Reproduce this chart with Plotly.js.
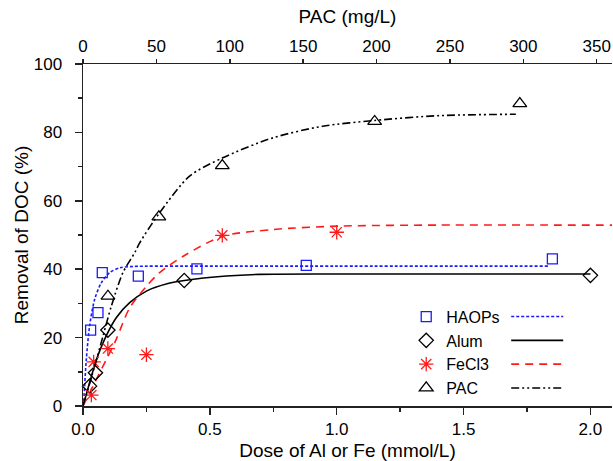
<!DOCTYPE html>
<html>
<head>
<meta charset="utf-8">
<script src="https://cdn.plot.ly/plotly-3.0.1.min.js"></script>
<style>html,body{margin:0;padding:0;background:#fff;}#chart{width:613px;height:461px;}</style>
</head>
<body>
<div id="chart"></div>
<script>
// Measured points (bottom axis: mmol/L, top axis for PAC: mg/L)
var haopsX = [0.030, 0.059, 0.076, 0.218, 0.449, 0.880, 1.850];
var haopsY = [22.2, 27.3, 39.0, 38.0, 40.1, 41.1, 43.0];
var alumX = [0.026, 0.049, 0.098, 0.399, 2.0];
var alumY = [5.8, 9.7, 22.2, 36.7, 38.2];
var feX = [0.033, 0.042, 0.098, 0.25, 0.549, 1.0];
var feY = [3.2, 12.9, 16.8, 15.0, 49.9, 50.8];
var pacX = [17.0, 51.7, 94.9, 198.7, 297.6];
var pacY = [32.1, 55.3, 70.3, 83.2, 88.4];

// Fitted curves
var haopsFitX = [0, 0.003, 0.013, 0.026, 0.046, 0.072, 0.105, 0.145, 0.2, 0.4, 1.0, 1.84];
var haopsFitY = [0, 2, 13.6, 23.4, 31.2, 36, 39, 40.4, 40.8, 40.9, 40.9, 40.9];
var alumFitX = [0, 0.026, 0.053, 0.085, 0.131, 0.184, 0.25, 0.335, 0.4, 0.565, 0.696, 1.0, 1.5, 2.0];
var alumFitY = [0, 6.8, 13.6, 19.5, 25.8, 30.2, 33.6, 35.8, 36.7, 38.0, 38.5, 38.6, 38.6, 38.6];
var feFitX = [0, 0.046, 0.092, 0.131, 0.184, 0.25, 0.302, 0.4, 0.549, 0.748, 1.01, 1.4, 1.877, 2.085];
var feFitY = [0, 6.8, 13.6, 19.5, 28.7, 35, 39, 44, 49.6, 51.6, 52.6, 52.9, 52.9, 52.9];
var pacFitX = [0, 8.0, 13.6, 19.3, 27.2, 35.2, 38.6, 52.2, 72.6, 94.8, 129.3, 163.3, 198.7, 242.7, 294.9];
var pacFitY = [0, 11.7, 20.4, 29.2, 39.0, 44.8, 47.7, 56.5, 67.2, 72.5, 78.4, 81.8, 83.5, 84.9, 85.3];

var seriesNames = ['HAOPs', 'Alum', 'FeCl3', 'PAC'];

var FONT = 'Liberation Sans, Arial, Helvetica, sans-serif';
var BLUE = '#1a1aff', RED = '#ff1a1a', BLACK = '#000000';

function pts(x, y, name, sym, color, size, xa) {
  return {x: x, y: y, type: 'scatter', mode: 'markers', name: name, xaxis: xa || 'x', yaxis: 'y',
    legend: 'legend', cliponaxis: false,
    marker: {symbol: sym, size: size, color: color, line: {width: 1.3, color: color}}};
}
function fit(x, y, dash, color, xa) {
  return {x: x, y: y, type: 'scatter', mode: 'lines', name: ' ', xaxis: xa || 'x', yaxis: 'y',
    legend: 'legend2', hoverinfo: 'skip',
    line: {color: color, width: 1.6, dash: dash, shape: 'spline', smoothing: 0.8}};
}

var data = [
  fit(haopsFitX, haopsFitY, '3px,2px', BLUE),
  fit(alumFitX, alumFitY, 'solid', BLACK),
  fit(feFitX, feFitY, '8px,6px', RED),
  fit(pacFitX, pacFitY, '8px,3px,2px,3px,2px,3px', BLACK, 'x2'),
  pts(haopsX, haopsY, seriesNames[0], 'square-open', BLUE, 10),
  pts(alumX, alumY, seriesNames[1], 'diamond-open', BLACK, 11),
  pts(feX, feY, seriesNames[2], 'asterisk-open', RED, 12),
  pts(pacX, pacY, seriesNames[3], 'triangle-up-open', BLACK, 12, 'x2')
];

var axisCommon = {
  showline: true, linecolor: '#222', linewidth: 1.5, ticks: 'outside', ticklen: 7, tickwidth: 1.5,
  tickcolor: '#222', showgrid: false, zeroline: false, tickfont: {family: FONT, size: 17, color: '#000'},
  fixedrange: true
};

var layout = {
  width: 613, height: 461,
  margin: {l: 83, r: 1, t: 64, b: 55, pad: 0},
  paper_bgcolor: '#fff', plot_bgcolor: '#fff',
  font: {family: FONT, size: 17, color: '#000'},
  showlegend: true,
  xaxis: Object.assign({}, axisCommon, {
    range: [0, 2.085], dtick: 0.5, tick0: 0, tickformat: '.1f',
    minor: {dtick: 0.25, ticks: 'outside', ticklen: 4, tickwidth: 1.5, tickcolor: '#222'},
    title: {text: 'Dose of Al or Fe (mmol/L)', font: {family: FONT, size: 19}, standoff: 6}
  }),
  xaxis2: Object.assign({}, axisCommon, {
    overlaying: 'x', side: 'top', anchor: 'y', range: [0, 360.4], dtick: 50, tick0: 0,
    ticklen: 4,
    title: {text: 'PAC (mg/L)', font: {family: FONT, size: 19}, standoff: 8}
  }),
  yaxis: Object.assign({}, axisCommon, {
    range: [0, 100], dtick: 20, tick0: 0, ticklabelstandoff: 9,
    minor: {dtick: 10, ticks: 'outside', ticklen: 4, tickwidth: 1.5, tickcolor: '#222'},
    title: {text: 'Removal of DOC (%)', font: {family: FONT, size: 19}, standoff: 0}
  }),
  legend: {
    x: 0.611, y: 0.311, xanchor: 'left', yanchor: 'top', bgcolor: 'rgba(0,0,0,0)',
    font: {family: FONT, size: 16, color: '#000'}, tracegroupgap: 0, itemclick: false
  },
  legend2: {
    x: 0.80, y: 0.311, xanchor: 'left', yanchor: 'top', bgcolor: 'rgba(0,0,0,0)', itemwidth: 52,
    font: {family: FONT, size: 16, color: '#000'}, tracegroupgap: 0, itemclick: false
  }
};

Plotly.newPlot('chart', data, layout, {displayModeBar: false, staticPlot: true});
</script>
</body>
</html>
